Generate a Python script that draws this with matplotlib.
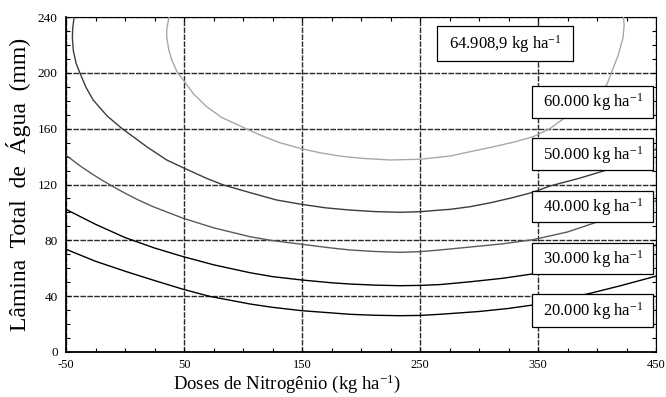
import matplotlib

matplotlib.use("Agg")
import matplotlib.pyplot as plt
import matplotlib.ticker as ticker
from matplotlib.patches import Rectangle

plt.rcParams["font.family"] = ["Liberation Serif", "DejaVu Serif"]
plt.rcParams["mathtext.fontset"] = "custom"
plt.rcParams["mathtext.rm"] = "Liberation Serif"
plt.rcParams["mathtext.it"] = "Liberation Serif"
plt.rcParams["axes.unicode_minus"] = False

# isoquantas (dose de N, lamina de agua)
n20_x = [-50, -25, 1.4, 25, 49.4, 72, 105.9, 125, 149.7, 175, 190.7, 212, 233, 250, 266.9, 300, 325, 346, 370, 394, 420, 452]
n20_y = [73.6, 65, 57.5, 51.2, 44.9, 39.8, 34.4, 32.0, 29.6, 28.0, 27.0, 26.3, 26.0, 26.2, 27.0, 29.0, 31.2, 33.7, 37.5, 42.0, 47.5, 54.8]

n30_x = [-50, -25, 0, 5.7, 25, 49.4, 75, 105.9, 125, 149.7, 175, 190.7, 212, 233, 250, 266.9, 292.4, 320, 346, 375, 400, 425, 452]
n30_y = [102.2, 91.5, 82, 80.3, 74.5, 68.3, 62.5, 56.8, 54, 51.6, 49.6, 48.7, 47.9, 47.5, 47.7, 48.3, 50.3, 52.8, 56, 60.5, 65.5, 71, 77]

n40_x = [-50, -37.5, -25, -12.7, 0, 11.3, 25, 49.4, 75, 105.9, 125, 149.7, 175, 190.7, 212, 233, 250, 266.9, 292.4, 320, 346, 375, 401, 425, 452]
n40_y = [141, 133, 126, 119.7, 113.8, 108.9, 103.7, 95.8, 89, 82.6, 79.8, 77.2, 74.5, 73.1, 72, 71.4, 71.9, 73.1, 75.2, 77.5, 80.5, 86, 93.4, 100.5, 109]

n50_x = [-43.0, -44.3, -44.6, -43.8, -41.5, -38.1, -33, -26.9, -15, -2.8, 18.4, 35.3, 49.4, 69.2, 83.3, 105.9, 128.5,
         149.7, 170, 190.7, 212, 233, 250, 266.9, 275.4, 292.4, 310, 328, 346, 360, 385, 408.2, 430, 452]
n50_y = [241, 232, 225, 216, 207, 199.7, 189.5, 180.5, 169, 160.3, 147.1, 137.6, 132, 124.4, 119.7, 114.2, 108.9,
         105.8, 103.3, 101.7, 100.6, 100.1, 100.5, 101.7, 102.2, 104.1, 107, 110.5, 114.5, 118.9, 124.5, 130.4, 138, 146]

n60_x = [37.5, 35.5, 35.3, 37, 39.6, 44, 49.4, 58, 69.2, 82, 97.5, 114.4, 130, 148.3, 165, 182, 200, 224.6, 250,
         275.4, 292.4, 309.3, 330, 346, 360, 372, 390, 408.2, 418, 422, 423, 422.3]
n60_y = [241, 232, 226, 217, 209.2, 201, 194.9, 185, 175.8, 168, 162, 155.5, 150.3, 145.9, 142.8, 140.4, 138.8, 137.6, 138.1,
         140.4, 143.5, 146.5, 150.5, 154.3, 160, 167.4, 178, 191.3, 212.8, 225, 234.3, 241.5]

curves = [(n20_x, n20_y), (n30_x, n30_y), (n40_x, n40_y), (n50_x, n50_y), (n60_x, n60_y)]
curve_colors = ["#000000", "#000000", "#5a5a5a", "#3c3c3c", "#a8a8a8"]

labels = ["20.000", "30.000", "40.000", "50.000", "60.000"]
max_label = "64.908,9"

x_ticks = [-50, 50, 150, 250, 350, 450]
y_ticks = [0, 40, 80, 120, 160, 200, 240]

fig = plt.figure(figsize=(6.66, 3.97), dpi=100)
ax = fig.add_axes([0.0991, 0.1134, 0.8859, 0.8436])

for (xs, ys), c in zip(curves, curve_colors):
    ax.plot(xs, ys, color=c, linewidth=1.0, zorder=3)

ax.set_xlim(-50, 450)
ax.set_ylim(0, 240)
ax.set_xticks(x_ticks)
ax.set_yticks(y_ticks)
ax.xaxis.set_minor_locator(ticker.MultipleLocator(25))
ax.yaxis.set_minor_locator(ticker.MultipleLocator(10))
ax.tick_params(which="both", direction="in", top=True, right=True, length=3, width=0.8)
ax.tick_params(axis="x", labelsize=9, pad=5)
ax.tick_params(axis="y", labelsize=9.5, pad=6)

ax.grid(True, which="major", color="#2a2a2a", linewidth=1.0, linestyle=(0, (4, 1)), zorder=1)
ax.set_axisbelow(True)
for side in ["left", "bottom"]:
    ax.spines[side].set_linewidth(1.3)
for side in ["top", "right"]:
    ax.spines[side].set_linewidth(0.8)

# caixas de rotulo
box_spans = [(18.1, 41.3), (55.9, 78.3), (93.4, 115.6), (130.4, 153.1), (167.9, 190.6)]
for lab, (y0, y1) in zip(labels, box_spans):
    ax.add_patch(Rectangle((345.2, y0), 102.3, y1 - y0, facecolor="white", edgecolor="black",
                           linewidth=0.9, zorder=4))
    ax.text(396.3, (y0 + y1) / 2 - 0.5, lab + r" kg ha$^{\mathrm{-1}}$", ha="center", va="center",
            fontsize=12, zorder=5)
ax.add_patch(Rectangle((264.7, 208.3), 115.3, 25.3, facecolor="white", edgecolor="black",
                       linewidth=0.9, zorder=4))
ax.text(322.3, 220.5, max_label + r" kg ha$^{\mathrm{-1}}$", ha="center", va="center", fontsize=12, zorder=5)

ax.set_xlabel(r"Doses de Nitrogênio (kg ha$^{\mathrm{-1}}$)", fontsize=13.5)
ax.xaxis.set_label_coords(0.374, -0.06)
ax.set_ylabel("Lâmina  Total  de  Água  (mm)", fontsize=17)
ax.yaxis.set_label_coords(-0.06, 0.5)

fig.savefig("out.png", dpi=100, facecolor="white")
